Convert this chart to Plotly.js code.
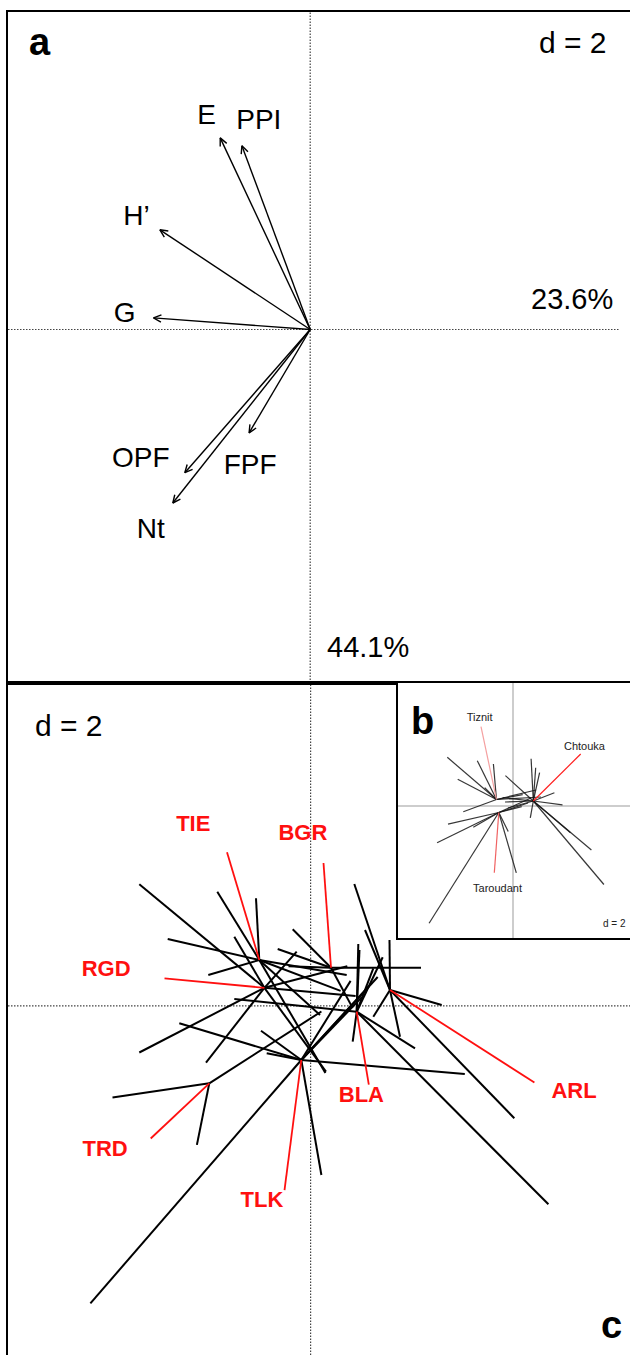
<!DOCTYPE html>
<html><head><meta charset="utf-8">
<script src="https://cdn.plot.ly/plotly-3.0.1.min.js"></script>
<style>html,body{margin:0;padding:0;background:#fff}</style>
</head><body><div id="plot" style="width:630px;height:1355px"></div>
<script>
// ---------- Panel a : correlation circle (variables) ----------
const arrowVar = ['E','PPI','H\u2019','G','OPF','Nt','FPF'];
const arrowX = [-0.900,-0.683,-1.503,-1.567,-1.254,-1.374,-0.611];
const arrowY = [1.916,1.838,0.997,0.116,-1.432,-1.735,-1.033];
const arrowLabelX = [-1.035,-0.514,-1.736,-1.855,-1.694,-1.595,-0.601];
const arrowLabelY = [2.126,2.076,1.116,0.149,-1.303,-2.019,-1.377];

// ---------- Panel c : sites grouped by locality ----------
const groups = ['TIE','BGR','RGD','ARL','BLA','TLK','TRD'];
const groupX = [-0.513,0.204,-0.462,0.794,0.461,-0.093,-1.013];
const groupY = [0.459,0.382,0.181,0.159,-0.058,-0.541,-0.774];
const tagX = [-0.836,0.129,-1.461,2.238,0.582,-0.261,-1.599];
const tagY = [1.537,1.429,0.276,-0.766,-0.787,-1.842,-1.326];
const labelX = [-1.173,-0.077,-2.045,2.635,0.508,-0.486,-2.055];
const labelY = [1.804,1.718,0.353,-0.861,-0.908,-1.954,-1.442];

const siteGroup = [
 'TIE','TIE','TIE','TIE','TIE','TIE','TIE','TIE',
 'BGR','BGR','BGR','BGR','BGR',
 'RGD','RGD','RGD','RGD','RGD','RGD','RGD','RGD',
 'ARL','ARL','ARL','ARL','ARL','ARL','ARL',
 'BLA','BLA','BLA','BLA','BLA','BLA','BLA','BLA',
 'TLK','TLK','TLK','TLK','TLK','TLK','TLK','TLK','TLK','TLK',
 'TRD','TRD','TRD'];
const siteX = [
 -0.933,-0.546,-1.429,-1.023,0.148,0.094,0.361,0.300,
 -0.179,-0.329,-0.221,1.104,0.420,
 -1.713,-0.763,-1.713,-1.046,-0.139,0.154,0.367,0.450,
 0.437,0.544,0.789,1.311,0.894,2.037,0.627,
 0.477,0.489,0.721,0.627,0.421,1.044,2.378,-0.763,
 -2.202,0.108,1.542,-1.313,-0.496,-0.439,0.671,0.584,0.514,0.400,
 0.108,-1.981,-1.137];
const siteY = [
 1.142,1.076,0.669,0.309,-0.671,-0.091,0.309,0.150,
 0.766,0.569,0.396,0.382,-0.020,
 1.216,0.692,-0.466,-0.568,0.542,-0.658,0.396,0.100,
 1.219,0.759,0.659,0.009,-0.308,-1.123,-0.108,
 0.619,0.559,0.486,0.376,-0.358,-0.424,-1.984,0.069,
 -2.974,-1.691,-0.680,-0.174,-0.248,-0.474,0.289,0.199,0.089,0.250,
 -0.056,-0.917,-1.390];

// ---------- Panel b : sites grouped by region ----------
const regions = ['Tiznit','Chtouka','Taroudant'];
const regionX = [-0.324,0.412,-0.278];
const regionY = [0.124,0.094,-0.136];
const regionTagX = [-0.634,1.360,-0.368];
const regionTagY = [1.580,1.034,-1.340];
const regionLabelX = [-0.660,1.436,-0.304];
const regionLabelY = [1.744,1.178,-1.662];
const regionColor = ['#f4a0a0','#ff2020','#f06262'];

const farmRegion = [
 'Tiznit','Tiznit','Tiznit','Tiznit','Tiznit','Tiznit','Tiznit','Tiznit','Tiznit',
 'Taroudant','Taroudant','Taroudant','Taroudant','Taroudant','Taroudant','Taroudant','Taroudant','Taroudant',
 'Chtouka','Chtouka','Chtouka','Chtouka','Chtouka','Chtouka','Chtouka','Chtouka','Chtouka','Chtouka','Chtouka','Chtouka','Chtouka'];
const farmX = [
 -1.308,-0.708,-1.100,-0.386,-0.988,0.466,0.566,0.200,-0.560,
 -1.672,-1.512,-1.294,-0.788,0.072,-0.090,0.306,0.366,0.180,
 0.368,0.538,-0.146,0.834,0.996,1.574,1.824,1.156,0.352,-0.154,-0.094,-0.200,0.460];
const farmY = [
 0.968,0.900,0.528,0.834,-0.120,0.314,0.174,0.220,0.360,
 -2.350,-0.740,-0.370,-0.430,-1.344,-0.516,0.054,0.154,-0.020,
 0.938,0.662,0.602,0.258,0.018,-0.886,-1.576,-0.542,-0.242,0.074,-0.046,0.160,0.760];

// ---------- build traces ----------
const FONT = 'Liberation Sans, Arial, sans-serif';
const traces = [];

// panel a arrows
const shX = [], shY = [], hdX = [], hdY = [];
const headLen = 0.085, headAng = 25 * Math.PI / 180;
arrowX.forEach((x, i) => {
  const y = arrowY[i];
  shX.push(0, x, null); shY.push(0, y, null);
  const n = Math.hypot(x, y), ux = -x / n, uy = -y / n;
  const arm = s => [x + headLen * (ux * Math.cos(s * headAng) - uy * Math.sin(s * headAng)),
                    y + headLen * (ux * Math.sin(s * headAng) + uy * Math.cos(s * headAng))];
  const a1 = arm(1), a2 = arm(-1);
  hdX.push(a1[0], x, a2[0], null); hdY.push(a1[1], y, a2[1], null);
});
traces.push({type:'scatter', mode:'lines', x:shX, y:shY, xaxis:'x', yaxis:'y',
  line:{color:'#000', width:1.4}, hoverinfo:'skip'});
traces.push({type:'scatter', mode:'lines', x:hdX, y:hdY, xaxis:'x', yaxis:'y',
  line:{color:'#000', width:1.4}, hoverinfo:'skip'});
traces.push({type:'scatter', mode:'text', x:arrowLabelX, y:arrowLabelY, text:arrowVar,
  textposition:'middle center', textfont:{family:FONT, size:28, color:'#000'},
  xaxis:'x', yaxis:'y', hoverinfo:'skip'});

// panel c star lines
const stX = [], stY = [];
siteGroup.forEach((g, i) => {
  const k = groups.indexOf(g);
  stX.push(groupX[k], siteX[i], null); stY.push(groupY[k], siteY[i], null);
});
traces.push({type:'scatter', mode:'lines', x:stX, y:stY, xaxis:'x2', yaxis:'y2',
  line:{color:'#000', width:2}, hoverinfo:'skip'});
const tgX = [], tgY = [];
groups.forEach((g, k) => { tgX.push(groupX[k], tagX[k], null); tgY.push(groupY[k], tagY[k], null); });
traces.push({type:'scatter', mode:'lines', x:tgX, y:tgY, xaxis:'x2', yaxis:'y2',
  line:{color:'#ff1010', width:1.8}, hoverinfo:'skip'});
traces.push({type:'scatter', mode:'text', x:labelX, y:labelY, text:groups,
  textposition:'middle center', textfont:{family:FONT, size:22, color:'#ff1010', weight:'bold'},
  xaxis:'x2', yaxis:'y2', hoverinfo:'skip'});

// panel b inset
const inX = [], inY = [];
farmRegion.forEach((r, i) => {
  const k = regions.indexOf(r);
  inX.push(regionX[k], farmX[i], null); inY.push(regionY[k], farmY[i], null);
});
traces.push({type:'scatter', mode:'lines', x:inX, y:inY, xaxis:'x3', yaxis:'y3',
  line:{color:'rgba(20,20,20,0.85)', width:1.2}, hoverinfo:'skip'});
regions.forEach((r, k) => {
  traces.push({type:'scatter', mode:'lines', x:[regionX[k], regionTagX[k]], y:[regionY[k], regionTagY[k]],
    xaxis:'x3', yaxis:'y3', line:{color:regionColor[k], width:1.2}, hoverinfo:'skip'});
});
traces.push({type:'scatter', mode:'text', x:regionLabelX, y:regionLabelY, text:regions,
  textposition:'middle center', textfont:{family:FONT, size:11, color:'#222'},
  xaxis:'x3', yaxis:'y3', hoverinfo:'skip'});

// ---------- layout ----------
const W = 630, H = 1355;
const bare = {showgrid:false, zeroline:false, showticklabels:false, ticks:'', fixedrange:true,
  showline:true, linecolor:'#000', linewidth:2};
const dotted = {color:'#444', width:1.2, dash:'1.5px,1.5px'};
const layout = {
  width:W, height:H, autosize:false, margin:{l:0, r:0, t:0, b:0},
  showlegend:false, hovermode:false, paper_bgcolor:'#fff', plot_bgcolor:'#fff',
  font:{family:FONT, color:'#000'},
  xaxis:Object.assign({}, bare, {domain:[8/W, 1], range:[-3.022, 3.198], mirror:true, anchor:'y'}),
  yaxis:Object.assign({}, bare, {domain:[672/H, 1343/H], range:[-3.535, 3.175], anchor:'x'}),
  xaxis2:Object.assign({}, bare, {domain:[8/W, 1], range:[-3.026, 3.194], side:'top', anchor:'y2'}),
  yaxis2:Object.assign({}, bare, {domain:[0, 672/H], range:[-3.491, 3.229], anchor:'x2'}),
  xaxis3:Object.assign({}, bare, {domain:[397.5/W, 1], range:[-2.304, 2.346], anchor:'y3',
    zeroline:true, zerolinecolor:'#cdcdcd', zerolinewidth:2}),
  yaxis3:Object.assign({}, bare, {domain:[417/H, 672/H], range:[-2.646, 2.454], anchor:'x3',
    zeroline:true, zerolinecolor:'#cdcdcd', zerolinewidth:2}),
  shapes:[
    {type:'line', xref:'x', yref:'y domain', x0:0, x1:0, y0:0, y1:1, line:dotted, layer:'below'},
    {type:'line', xref:'x domain', yref:'y', x0:0, x1:0.982, y0:0, y1:0, line:dotted, layer:'below'},
    {type:'line', xref:'x2', yref:'y2 domain', x0:0, x1:0, y0:0, y1:1, line:dotted, layer:'below'},
    {type:'line', xref:'x2 domain', yref:'y2', x0:0, x1:1, y0:0, y1:0, line:dotted, layer:'below'}
  ],
  annotations:[
    {xref:'paper', yref:'paper', x:39.6/W, y:1-42.2/H, text:'<b>a</b>', showarrow:false,
      font:{family:FONT, size:38}, xanchor:'center', yanchor:'middle'},
    {xref:'paper', yref:'paper', x:573.3/W, y:1-42.4/H, text:'d = 2', showarrow:false,
      font:{family:FONT, size:30}, xanchor:'center', yanchor:'middle'},
    {xref:'paper', yref:'paper', x:572.1/W, y:1-298.7/H, text:'23.6%', showarrow:false,
      font:{family:FONT, size:29}, xanchor:'center', yanchor:'middle'},
    {xref:'paper', yref:'paper', x:368/W, y:1-647.3/H, text:'44.1%', showarrow:false,
      font:{family:FONT, size:29}, xanchor:'center', yanchor:'middle'},
    {xref:'paper', yref:'paper', x:69.2/W, y:1-725.5/H, text:'d = 2', showarrow:false,
      font:{family:FONT, size:30}, xanchor:'center', yanchor:'middle'},
    {xref:'paper', yref:'paper', x:611.7/W, y:1-1325.3/H, text:'<b>c</b>', showarrow:false,
      font:{family:FONT, size:38}, xanchor:'center', yanchor:'middle'},
    {xref:'paper', yref:'paper', x:423/W, y:1-720.7/H, text:'<b>b</b>', showarrow:false,
      font:{family:FONT, size:38}, xanchor:'center', yanchor:'middle'},
    {xref:'paper', yref:'paper', x:614/W, y:1-923.2/H, text:'d = 2', showarrow:false,
      font:{family:FONT, size:10, color:'#222'}, xanchor:'center', yanchor:'middle'}
  ]
};
Plotly.newPlot('plot', traces, layout, {staticPlot:true, displayModeBar:false});
</script></body></html>
